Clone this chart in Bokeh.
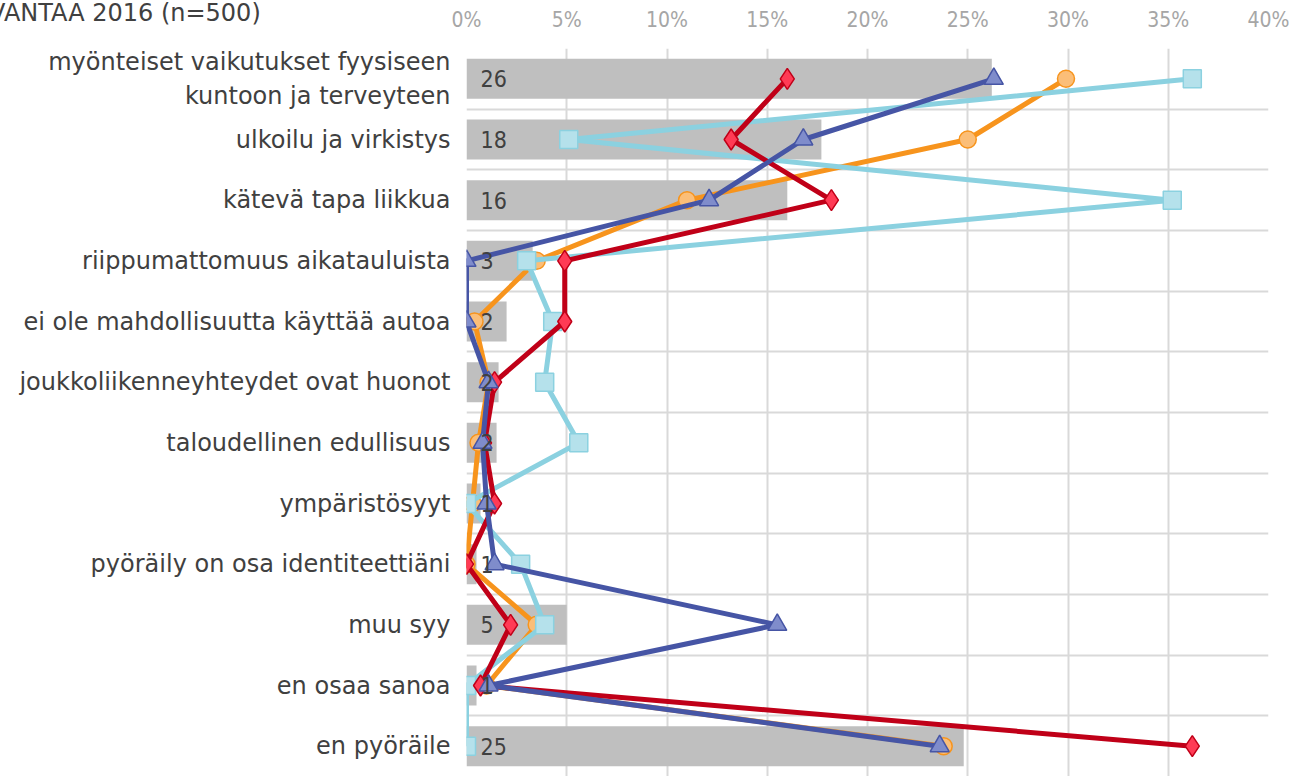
from bokeh.plotting import figure
from bokeh.models import FixedTicker, PrintfTickFormatter, ColumnDataSource, Div
from bokeh.layouts import column
from bokeh.core.properties import value
from bokeh.embed import file_html
from bokeh.resources import INLINE

title_text = "VANTAA 2016 (n=500)"
categories = [
    "myönteiset vaikutukset fyysiseen\nkuntoon ja terveyteen",
    "ulkoilu ja virkistys",
    "kätevä tapa liikkua",
    "riippumattomuus aikatauluista",
    "ei ole mahdollisuutta käyttää autoa",
    "joukkoliikenneyhteydet ovat huonot",
    "taloudellinen edullisuus",
    "ympäristösyyt",
    "pyöräily on osa identiteettiäni",
    "muu syy",
    "en osaa sanoa",
    "en pyöräile",
]
bar_values = [26.2, 17.7, 16.0, 3.3, 2.0, 1.6, 1.5, 0.7, 0.5, 5.0, 0.5, 24.8]
red_values = [16.0, 13.2, 18.2, 4.9, 4.9, 1.4, 0.9, 1.4, 0.0, 2.2, 0.7, 36.2]
orange_values = [29.9, 25.0, 11.0, 3.5, 0.4, 1.1, 0.6, 0.3, 0.0, 3.5, 1.0, 23.8]
blue_values = [26.3, 16.8, 12.1, 0.0, 0.0, 1.1, 0.8, 1.0, 1.4, 15.5, 1.1, 23.6]
lightblue_values = [36.2, 5.1, 35.2, 3.0, 4.3, 3.9, 5.6, 0.0, 2.7, 3.9, 0.0, 0.0]
x_ticks = [0, 5, 10, 15, 20, 25, 30, 35, 40]

n = len(categories)
ypos = [n - 1 - i for i in range(n)]
bar_labels = [str(int(v + 0.5)) for v in bar_values]

NARROW = "'Liberation Sans Narrow', 'DejaVu Sans Condensed', sans-serif"
SANS = "DejaVu Sans"
TXT = "#404040"
GRID = "#D9D9D9"

p = figure(width=1293, height=776, x_range=(0, 40), y_range=(-0.5, n - 0.5),
           x_axis_location="above", output_backend="svg", toolbar_location=None,
           min_border_left=466, min_border_right=25, min_border_top=48,
           min_border_bottom=0)
p.outline_line_color = None
p.background_fill_color = "white"
p.border_fill_color = None

xa = p.xaxis[0]
xa.ticker = FixedTicker(ticks=x_ticks)
xa.formatter = PrintfTickFormatter(format="%d%%")
xa.axis_line_color = None
xa.major_tick_line_color = None
xa.minor_tick_line_color = None
xa.major_tick_out = 0
xa.major_tick_in = 0
xa.major_label_standoff = 17
xa.major_label_text_font = NARROW
xa.major_label_text_font_size = "21px"
xa.major_label_text_color = "#A6A6A6"

ya = p.yaxis[0]
ya.ticker = FixedTicker(ticks=ypos)
ya.major_label_overrides = {y: c for y, c in zip(ypos, categories)}
ya.axis_line_color = None
ya.major_tick_line_color = None
ya.minor_tick_line_color = None
ya.major_tick_out = 0
ya.major_tick_in = 0
ya.major_label_standoff = 16
ya.major_label_text_font = SANS
ya.major_label_text_font_size = "24px"
ya.major_label_text_color = TXT

p.xgrid.grid_line_color = GRID
p.xgrid.grid_line_width = 2
p.xgrid.ticker = FixedTicker(ticks=x_ticks)
p.ygrid.grid_line_color = GRID
p.ygrid.grid_line_width = 2
p.ygrid.ticker = FixedTicker(ticks=[k + 0.5 for k in range(-1, n)])

src = ColumnDataSource(dict(y=ypos, bar=bar_values, lab=bar_labels,
                            red=red_values, orange=orange_values,
                            blue=blue_values, lb=lightblue_values,
                            zero=[0] * n))

p.hbar(y="y", left=0, right="bar", height=0.66, source=src,
       fill_color="#BFBFBF", line_color=None)

series = [
    ("orange", "#F7941D", "#FBBE78", "circle", 17),
    ("lb", "#8BD1E0", "#B5E1EB", "square", 18),
    ("red", "#C00018", "#FF3B55", "diamond", 21),
    ("blue", "#4655A5", "#7F8CCB", "triangle", 19),
]
for col, lc, fc, mk, sz in series:
    p.line(x=col, y="y", source=src, line_color=lc, line_width=5)
    p.scatter(x=col, y="y", source=src, marker=mk, size=sz,
              fill_color=fc, line_color=lc, line_width=1.5)

p.text(x="zero", y="y", text="lab", source=src, x_offset=14,
       text_align="left", text_baseline="middle",
       text_font=value(NARROW), text_font_size="23px", text_color=TXT)

title = Div(text=title_text, width=300, height=24, margin=(1, 0, -25, -11),
            styles={"font-family": "DejaVu Sans", "font-size": "24px",
                    "color": TXT, "white-space": "nowrap", "line-height": "24px"})

layout = column(title, p, spacing=0)
open("out.html", "w").write(file_html(layout, INLINE))
